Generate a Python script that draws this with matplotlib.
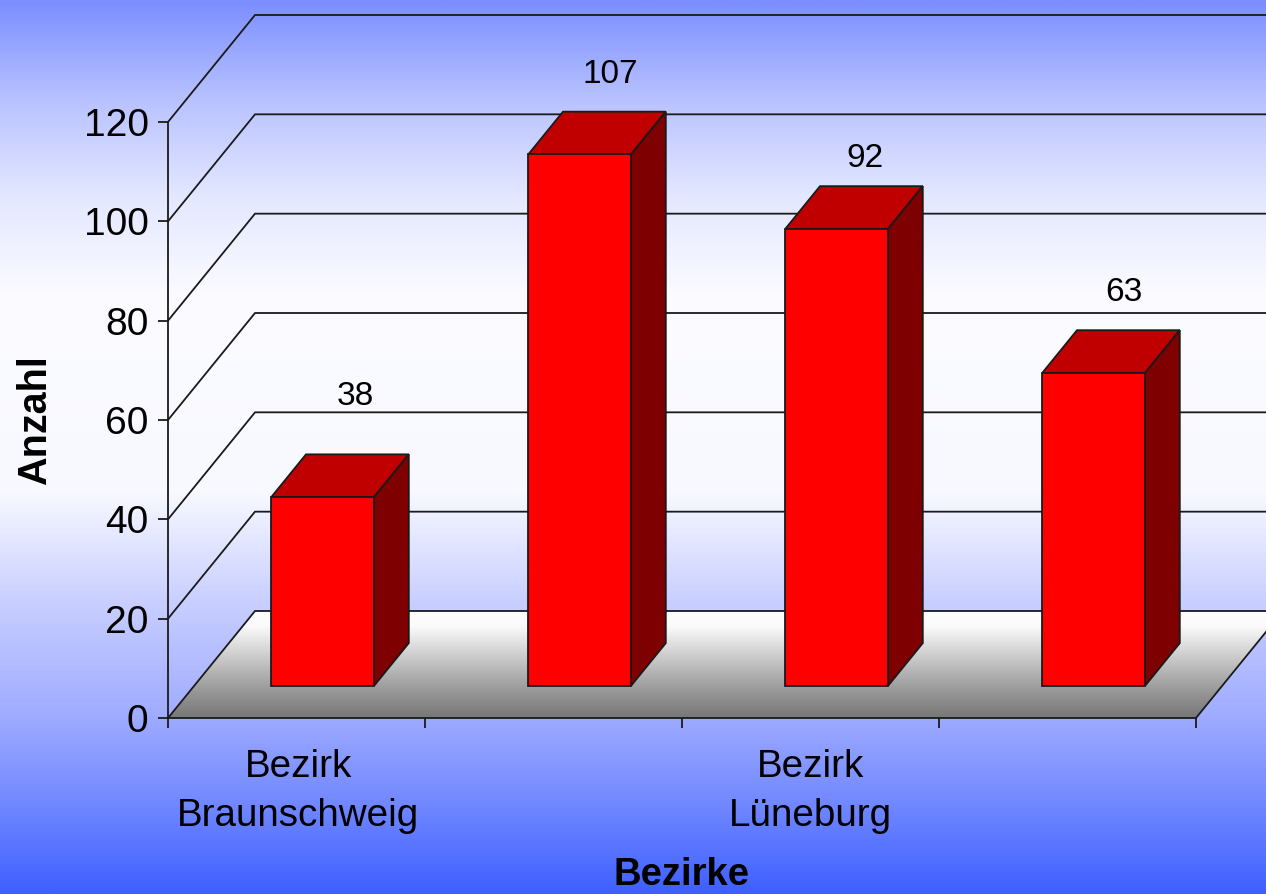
import numpy as np
import matplotlib
matplotlib.use("Agg")
import matplotlib.pyplot as plt
from matplotlib.colors import LinearSegmentedColormap
from matplotlib.patches import Polygon

values = [38, 107, 92, 63]
y_ticks = [0, 20, 40, 60, 80, 100, 120]
x_ticks = [0, 1, 2, 3, 4]
category_labels = ["Bezirk\nBraunschweig", "Bezirk\nLüneburg"]
category_label_pos = [0.507, 2.5]
x_title = "Bezirke"
y_title = "Anzahl"

W, H = 1266, 894
LEFT, RIGHT, TOP, BOTTOM = 168, 1196, 122, 718
DX = 87 / ((RIGHT - LEFT) / 4)            # depth shift, category units
DY = 107 / ((BOTTOM - TOP) / 120)         # depth shift, value units
Z0, Z1 = 0.3, 0.7                         # bar depth range
LINE = "#1a1a1a"
LW = 1.3

plt.rcParams["font.family"] = ["Liberation Sans", "DejaVu Sans"]
fig = plt.figure(figsize=(W / 100, H / 100), dpi=100)

# page gradient
bg = fig.add_axes([0, 0, 1, 1], zorder=0)
cmap = LinearSegmentedColormap.from_list("page", [
    (0.00, "#7b8eff"), (0.11, "#b8c2ff"), (0.22, "#e4e8ff"), (0.33, "#fbfbff"), (0.55, "#f8f9ff"),
    (0.68, "#c6cdff"), (0.80, "#a0acff"), (0.90, "#7188ff"), (1.00, "#3f60ff")])
bg.imshow(np.linspace(0, 1, 512)[:, None], cmap=cmap, aspect="auto", extent=(0, 1, 0, 1),
          origin="upper", interpolation="bilinear")
bg.axis("off")

ax = fig.add_axes([LEFT / W, 1 - BOTTOM / H, (RIGHT - LEFT) / W, (BOTTOM - TOP) / H], zorder=1)
ax.patch.set_visible(False)


def pr(x, y, z):
    return x + z * DX, y + z * DY


# floor with vertical gradient
floor_pts = [pr(0, 0, 0), pr(4, 0, 0), pr(4, 0, 1), pr(0, 0, 1)]
floor_cmap = LinearSegmentedColormap.from_list("floor", [
    (0, "#ffffff"), (0.15, "#fafafa"), (0.6, "#b0b0b0"), (0.8, "#919191"), (1, "#777777")])
im = ax.imshow(np.linspace(0, 1, 256)[:, None], cmap=floor_cmap, aspect="auto",
               extent=(0, 4 + DX, 0, DY), origin="upper", zorder=1)
clip = Polygon(floor_pts, closed=True, transform=ax.transData, facecolor="none", edgecolor="none")
clip.set_clip_on(False)
ax.add_patch(clip)
im.set_clip_path(clip)
im.set_clip_box(fig.bbox)
ax.set_xlim(0, 4)
ax.set_ylim(0, 120)

# walls: grid lines across the side and back
for t in y_ticks:
    xs, ys = zip(pr(0, t, 0), pr(0, t, 1), pr(4, t, 1))
    ax.plot(xs, ys, color=LINE, lw=LW, clip_on=False, zorder=2, solid_joinstyle="miter")
xs, ys = zip(pr(4, 0, 0), pr(4, 0, 1))
ax.plot(xs, ys, color=LINE, lw=LW, clip_on=False, zorder=2)

# bars
label_dx_px = [15, 13, 11, 13]
label_dy_px = [79, 59, 49, 59]
for i, v in enumerate(values):
    x0, x1 = i + Z0, i + Z1
    fx0, base = pr(x0, 0, Z0)
    fx1, _ = pr(x1, 0, Z0)
    ax.bar(fx0, v, width=fx1 - fx0, bottom=base, align="edge", color="#ff0000",
           edgecolor=LINE, linewidth=LW, zorder=4, clip_on=False)
    top = [pr(x0, v, Z0), pr(x1, v, Z0), pr(x1, v, Z1), pr(x0, v, Z1)]
    side = [pr(x1, 0, Z0), pr(x1, v, Z0), pr(x1, v, Z1), pr(x1, 0, Z1)]
    ax.add_patch(Polygon(top, closed=True, facecolor="#c00000", edgecolor=LINE, lw=LW, zorder=3, clip_on=False))
    ax.add_patch(Polygon(side, closed=True, facecolor="#7e0000", edgecolor=LINE, lw=LW, zorder=3, clip_on=False))
    cx, cy = pr(i + 0.5, v, 0.5)
    ax.annotate(str(v), (cx, cy), xytext=(label_dx_px[i] * 0.72, label_dy_px[i] * 0.72),
                textcoords="offset points", ha="center", va="center", fontsize=24, color="black",
                annotation_clip=False, zorder=5)

# axes
for s in ("top", "right"):
    ax.spines[s].set_visible(False)
for s in ("left", "bottom"):
    ax.spines[s].set_color(LINE)
    ax.spines[s].set_linewidth(LW)
    ax.spines[s].set_zorder(3)
ax.set_yticks(y_ticks)
ax.set_yticklabels([str(t) for t in y_ticks], fontsize=28)
ax.tick_params(axis="y", length=7.5, width=LW, color=LINE, pad=6.5)
ax.set_xticks(x_ticks)
ax.set_xticklabels([])
ax.tick_params(axis="x", which="major", length=7.5, width=LW, color=LINE)
ax.set_xticks(category_label_pos, category_labels, minor=True, fontsize=27.8, linespacing=1.48)
ax.tick_params(axis="x", which="minor", length=0, pad=22)
ax.set_xlabel(x_title, fontsize=27.5, fontweight="bold")
ax.set_ylabel(y_title, fontsize=28.5, fontweight="bold")
ax.xaxis.set_label_coords(0.5, (BOTTOM - 875) / (BOTTOM - TOP), transform=ax.transAxes)
ax.xaxis.label.set_verticalalignment("center")
ax.yaxis.set_label_coords((35 - LEFT) / (RIGHT - LEFT), 0.5, transform=ax.transAxes)
ax.yaxis.label.set_verticalalignment("center")

fig.savefig("out.png", dpi=100)
